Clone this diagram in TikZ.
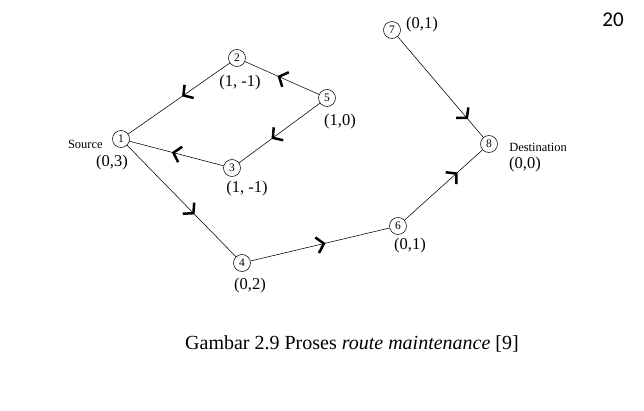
\documentclass[tikz,border=0pt]{standalone}
\usepackage{fontspec}
\setmainfont{Liberation Serif}
\newfontfamily\pagefont{Carlito}
\usetikzlibrary{arrows.meta,decorations.markings}

\begin{document}
\begin{tikzpicture}[x=1pt, y=-1pt, line width=0.55pt,
  nd/.style={circle, draw=black, inner sep=0pt, minimum size=17pt, font=\fontsize{11.5}{11.5}\selectfont},
  lbl/.style={font=\fontsize{16.5}{16.5}\selectfont, inner sep=0pt},
  tag/.style={font=\fontsize{12.5}{12.5}\selectfont, inner sep=0pt},
  flow/.style={postaction={decorate}, decoration={markings,
      mark=at position #1 with {\arrow{Straight Barb[length=7pt, width=16pt, line width=2.5pt]}}}}]
  \useasboundingbox (0,0) rectangle (644,410);
  % nodes of the route
  \node[nd] (n1) at (121,139) {1};
  \node[nd] (n2) at (237,58)  {2};
  \node[nd] (n3) at (232,168) {3};
  \node[nd] (n4) at (242,263) {4};
  \node[nd] (n5) at (327,98)  {5};
  \node[nd] (n6) at (398,226) {6};
  \node[nd] (n7) at (392,30)  {7};
  \node[nd] (n8) at (489,144) {8};
  % hop counts
  \node[lbl] (c1) at (112,163) {(0,3)};
  \node[lbl] (c2) at (240,83)  {(1, -1)};
  \node[lbl] (c3) at (247,189) {(1, -1)};
  \node[lbl] (c4) at (250,286) {(0,2)};
  \node[lbl] (c5) at (340,122) {(1,0)};
  \node[lbl] (c6) at (410,246) {(0,1)};
  \node[lbl] (c7) at (422,25)  {(0,1)};
  \node[lbl] (c8) at (525,165) {(0,0)};
  \node[tag, anchor=east] (src) at (103,144) {Source};
  \node[tag, anchor=west] (dst) at (509,147) {Destination};
  % links
  \draw[flow=0.47] (n2) -- (n1);
  \draw[flow=0.56] (n5) -- (n2);
  \draw[flow=0.6]  (n5) -- (n3);
  \draw[flow=0.55] (n3) -- (n1);
  \draw[flow=0.62] (n1) -- (n4);
  \draw[flow=0.54] (n4) -- (n6);
  \draw[flow=0.82] (n7) -- (n8);
  \draw[flow=0.68] (n6) -- (n8);
  \node[font=\pagefont\fontsize{21}{21}\selectfont] (pg) at (613,20) {20};
  \node[font=\fontsize{20}{20}\selectfont] (cap) at (352,344)
    {Gambar 2.9 Proses \textit{route maintenance} [9]};
\end{tikzpicture}
\end{document}
